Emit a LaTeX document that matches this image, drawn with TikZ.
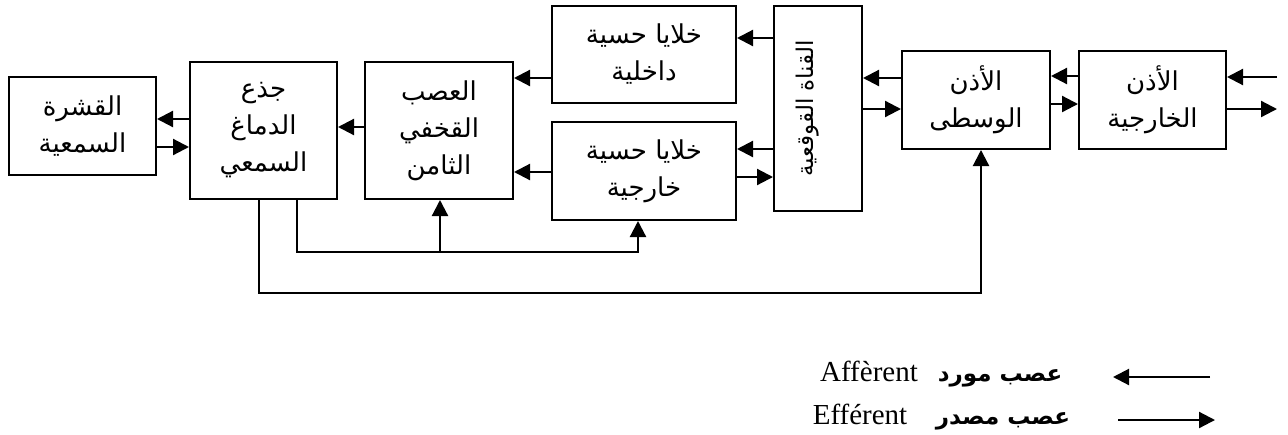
\documentclass[tikz,border=0pt]{standalone}
\usepackage{fontspec}
\usepackage{tikz}
\usetikzlibrary{arrows.meta, positioning, calc}
\TeXXeTstate=1
\newfontfamily\arabicfont[Script=Arabic]{DejaVu Sans}
\newfontfamily\seriffont{Liberation Serif}

\begin{document}
\begin{tikzpicture}[x=0.5pt, y=-0.5pt, every node/.style={transform shape}]
		\tikzstyle{blk}=[draw=black, line width=1pt, align=center, inner sep=0pt, text=black, font=\arabicfont\fontsize{13}{18.5}\selectfont]
		\tikzstyle{arr}=[-{Triangle[length=8pt, width=8pt]}, line width=1.1pt]
		\tikzstyle{legar}=[anchor=base, font=\arabicfont\bfseries\fontsize{11.5}{14}\selectfont]
		\tikzstyle{legla}=[anchor=base, font=\seriffont\fontsize{14.5}{16}\selectfont]
		
		\useasboundingbox (0,0) rectangle (1288,434);
		
		%% boxes
		\node [blk, minimum width=73.5pt, minimum height=49pt] (CX) at (82.5,126) {\beginR القشرة\endR\\\beginR السمعية\endR};
		\node [blk, minimum width=73.5pt, minimum height=68.5pt] (BS) at (263.5,130.5) {\beginR جذع\endR\\\beginR الدماغ\endR\\\beginR السمعي\endR};
		\node [blk, minimum width=74pt, minimum height=68.5pt, right=13pt of BS] (N8) {\beginR العصب\endR\\\beginR القخفي\endR\\\beginR الثامن\endR};
		\node [blk, minimum width=92pt, minimum height=48.5pt] (IHC) at (644,54.5) {\beginR خلايا حسية\endR\\\beginR داخلية\endR};
		\node [blk, minimum width=92pt, minimum height=49pt, below=8.5pt of IHC] (OHC) {\beginR خلايا حسية\endR\\\beginR خارجية\endR};
		\node [blk, minimum width=44pt, minimum height=102.5pt] (CC) at (818,108.5) {};
		\node [font=\arabicfont\fontsize{11.5}{14}\selectfont, rotate=90] (CCt) at ([xshift=-5pt]CC.center) {\beginR القناة القوقعية\endR};
		\node [blk, minimum width=74pt, minimum height=49pt] (ME) at (976,100) {\beginR الأذن\endR\\\beginR الوسطى\endR};
		\node [blk, minimum width=73.5pt, minimum height=49pt, right=13.5pt of ME] (OE) {\beginR الأذن\endR\\\beginR الخارجية\endR};
		
		%% brainstem <-> cortex
		\draw [arr] (BS.west |- 0,119) -- (CX.east |- 0,119);
		\draw [arr] (CX.east |- 0,147) -- (BS.west |- 0,147);
		\draw [arr] (N8.west |- 0,127) -- (BS.east |- 0,127);
		
		%% hair cells -> nerve
		\draw [arr] (IHC.west |- 0,78) -- (N8.east |- 0,78);
		\draw [arr] (OHC.west |- 0,172) -- (N8.east |- 0,172);
		
		%% canal <-> hair cells
		\draw [arr] (CC.west |- 0,38) -- (IHC.east |- 0,38);
		\draw [arr] (CC.west |- 0,149) -- (OHC.east |- 0,149);
		\draw [arr] (OHC.east |- 0,177) -- (CC.west |- 0,177);
		
		%% ears
		\draw [arr] (ME.west |- 0,78) -- (CC.east |- 0,78);
		\draw [arr] (CC.east |- 0,109) -- (ME.west |- 0,109);
		\draw [arr] (OE.west |- 0,76) -- (ME.east |- 0,76);
		\draw [arr] (ME.east |- 0,104) -- (OE.west |- 0,104);
		\coordinate (IN) at (1277,77);
		\coordinate (OUT) at (1277,109);
		\draw [arr] (IN) -- (OE.east |- IN);
		\draw [arr] (OE.east |- OUT) -- (OUT);
		
		%% efferent loops
		\coordinate (J1) at (440,252);
		\draw [arr] (BS.south -| 297,0) |- (638,252) -- (OHC.south -| 638,0);
		\draw [arr] (J1) -- (N8.south -| J1);
		\draw [arr] (BS.south -| 259,0) |- (981,293) -- (ME.south -| 981,0);
		
		%% legend
		\coordinate (LA1) at (1210,377);
		\coordinate (LA2) at (1113,377);
		\coordinate (LE1) at (1118,420);
		\coordinate (LE2) at (1215,420);
		\draw [arr] (LA1) -- (LA2);
		\draw [arr] (LE1) -- (LE2);
		\node [legar] (LAa) at (1000,381) {\beginR عصب مورد\endR};
		\node [legla] (LAl) at (869,381) {Affèrent};
		\node [legar] (LEa) at (1003,424) {\beginR عصب مصدر\endR};
		\node [legla] (LEl) at (860,424) {Efférent};
		
		\end{tikzpicture}
\end{document}
